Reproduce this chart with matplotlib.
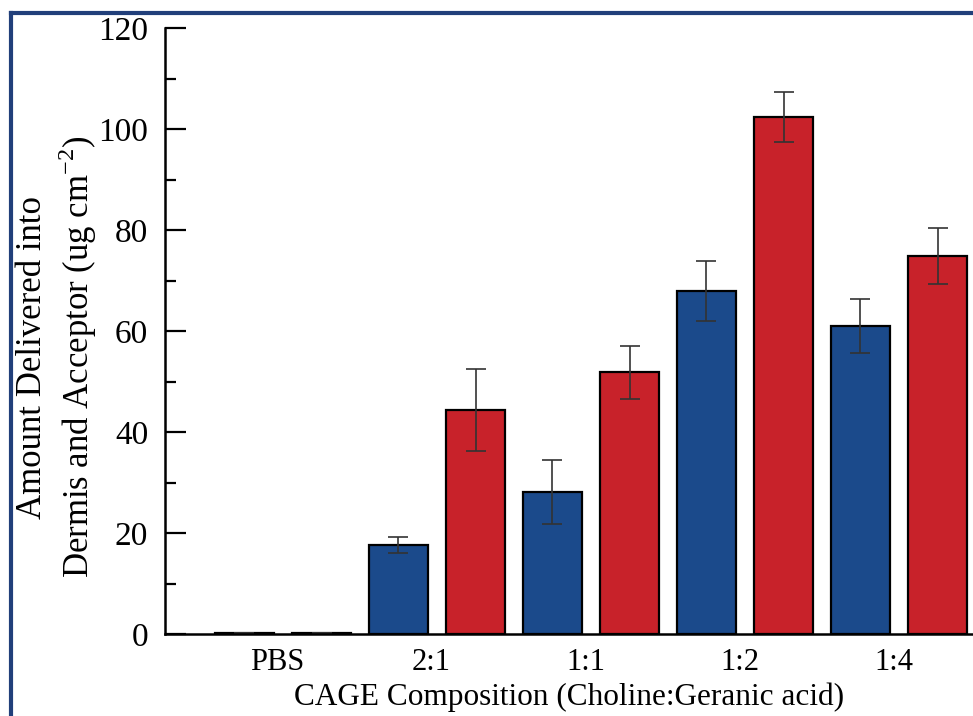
import matplotlib
matplotlib.use("Agg")
import matplotlib.pyplot as plt
import numpy as np
from matplotlib.ticker import MultipleLocator

# data
categories = ["PBS", "2:1", "1:1", "1:2", "1:4"]
blue_vals = [0.2, 17.6, 28.1, 67.9, 61.0]
blue_err = [0.0, 1.6, 6.3, 6.0, 5.3]
red_vals = [0.2, 44.3, 51.8, 102.4, 74.8]
red_err = [0.0, 8.1, 5.3, 4.9, 5.5]

plt.rcParams['font.family'] = ['Liberation Serif', 'DejaVu Serif']
plt.rcParams['mathtext.fontset'] = 'custom'
plt.rcParams['mathtext.rm'] = 'Liberation Serif'

fig = plt.figure(figsize=(9.73, 7.16), dpi=100)
ax = fig.add_axes([165/973, 1 - 634/716, 1 - 165/973, (634 - 28)/716])

x = np.arange(len(categories))
w = 0.383
off = 0.252
blue = "#1b4a8b"
red = "#c8222a"
ekw = dict(ecolor="#333333", elinewidth=1.2, capsize=7, capthick=1.2)
ax.bar(x - off, blue_vals, w, color=blue, edgecolor="black", linewidth=1.6,
       yerr=blue_err, error_kw=ekw)
ax.bar(x + off, red_vals, w, color=red, edgecolor="black", linewidth=1.6,
       yerr=red_err, error_kw=ekw)

ax.set_ylim(0, 120)
ax.set_xlim(-0.766, 4.48)
ax.yaxis.set_major_locator(MultipleLocator(20))
ax.yaxis.set_minor_locator(MultipleLocator(10))
ax.tick_params(axis='y', which='major', direction='in', length=15, width=1.6,
               labelsize=24, pad=12)
ax.tick_params(axis='y', which='minor', direction='in', length=8, width=1.6)
ax.set_xticks(x - 0.035)
ax.set_xticklabels(categories)
ax.tick_params(axis='x', length=0, labelsize=22, pad=10)

for s in ['top', 'right']:
    ax.spines[s].set_visible(False)
for s in ['left', 'bottom']:
    ax.spines[s].set_linewidth(1.8)

ax.set_xlabel("CAGE Composition (Choline:Geranic acid)", fontsize=22.5, labelpad=4)
ax.set_ylabel("Amount Delivered into\nDermis and Acceptor (ug cm$^{\\mathrm{-2}}$)",
              fontsize=25, linespacing=1.2)
ax.yaxis.set_label_coords(-0.082, 0.457)

# blue frame around the figure
frame_color = "#213f7a"
fig.add_artist(plt.Line2D([11/973, 1.0], [1 - 13/716, 1 - 13/716],
                          transform=fig.transFigure, color=frame_color, lw=3))
fig.add_artist(plt.Line2D([11/973, 11/973], [0.0, 1 - 13/716],
                          transform=fig.transFigure, color=frame_color, lw=3))

fig.savefig("out.png", dpi=100)
